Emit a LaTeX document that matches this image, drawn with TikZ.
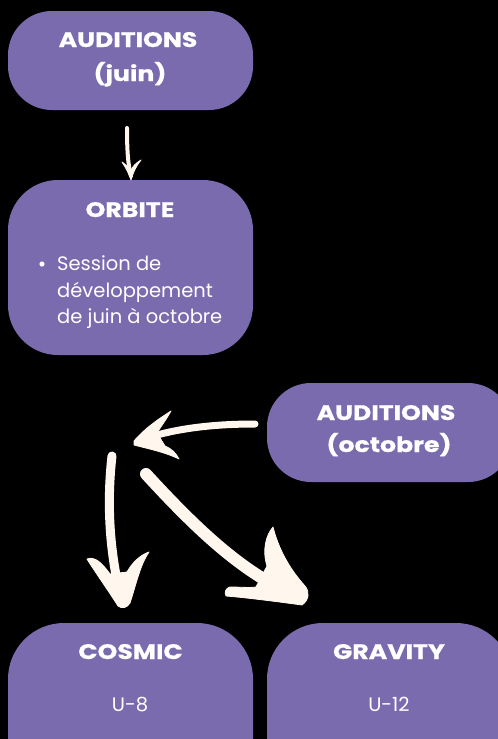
\documentclass[tikz,border=0pt]{standalone}
\usepackage{fontspec}
\setmainfont{Poppins}
\newfontfamily\headfont{Poppins}[BoldFont={Poppins Bold}, BoldFeatures={FakeStretch=1.2, FakeBold=0.6}]
\definecolor{boxpurple}{HTML}{7A6AAE}
\definecolor{cream}{HTML}{FFF7EE}
\tikzset{
  box/.style={fill=boxpurple, draw=none, inner sep=0pt},
  headtxt/.style={text=white, font=\headfont\bfseries\fontsize{21}{24}\selectfont, inner sep=0pt, anchor=base},
  bodytxt/.style={text=white, font=\fontsize{19.5}{26.5}\selectfont, inner sep=0pt, anchor=base},
  shaft/.style={draw=cream, line cap=round},
  arrowhead/.style={fill=cream, draw=cream, line width=0.8pt, line join=round},
}
\begin{document}
\begin{tikzpicture}[x=1pt, y=-1pt]
\useasboundingbox (0,0) rectangle (498,739);
\fill[black] (0,0) rectangle (498,739);
\clip (0,0) rectangle (498,739);
% boxes
\node[box, minimum width=245pt, minimum height=99pt, rounded corners=44pt] (b1) at (130.5,60.5) {};
\node[box, minimum width=245pt, minimum height=175pt, rounded corners=50pt] (b2) at (130.5,267.5) {};
\node[box, minimum width=245pt, minimum height=99pt, rounded corners=44pt] (b3) at (389.5,432.5) {};
\node[box, minimum width=245pt, minimum height=175pt, rounded corners=56pt] (b4) at (130.5,710.5) {};
\node[box, minimum width=245pt, minimum height=175pt, rounded corners=56pt] (b5) at (389.5,710.5) {};
% texts
\node[headtxt] (t1a) at (128,47) {AUDITIONS};
\node[headtxt] (t1b) at (130,81) {(juin)};
\node[headtxt] (t2a) at (130,217) {ORBITE};
\fill[white] (42,264) circle (2.6);
\node[bodytxt] (t2b) at (57,270) [anchor=base west] {Session de};
\node[bodytxt] (t2c) at (57,297) [anchor=base west] {développement};
\node[bodytxt] (t2d) at (57,323) [anchor=base west] {de juin à octobre};
\node[headtxt] (t3a) at (386,420) {AUDITIONS};
\node[headtxt] (t3b) at (389,452) {(octobre)};
\node[headtxt] (t4a) at (130.5,659) {COSMIC};
\node[bodytxt] (t4b) at (130,711) {U-8};
\node[headtxt] (t5a) at (389,659) {GRAVITY};
\node[bodytxt] (t5b) at (389,711) {U-12};
% arrow 1 : b1 -> b2
\coordinate (a1s) at (127,128);
\coordinate (a1e) at (131,176);
\draw[shaft, line width=4pt] (a1s) .. controls (127,150) and (128,165) .. (a1e);
\filldraw[arrowhead] (122,162) .. controls (126,168) and (129,174) .. (131,180) .. controls (133,173) and (136,166) .. (141,160) .. controls (136,163) and (133,166) .. (131,170) .. controls (128,167) and (125,164) .. (122,162) -- cycle;
% arrow 2 : b3 -> centre
\coordinate (a2s) at (255,424);
\coordinate (a2e) at (150,437);
\draw[shaft, line width=7pt] (a2s) .. controls (215,424) and (180,428) .. (a2e);
\filldraw[arrowhead] (134,441) .. controls (145,428) and (160,418) .. (171,411) .. controls (166,420) and (160,428) .. (157,433) -- (165,446) .. controls (172,449) and (176,453) .. (179,459) .. controls (165,452) and (145,448) .. (134,445) -- cycle;
% arrow 3 : centre -> b4
\coordinate (a3s) at (112,456);
\coordinate (a3e) at (119,590);
\draw[shaft, line width=9pt] (a3s) .. controls (107,500) and (109,545) .. (a3e);
\filldraw[arrowhead] (87,559) .. controls (95,556) and (102,563) .. (110,574) -- (127,572) .. controls (132,563) and (140,555) .. (149,552) .. controls (140,565) and (136,585) .. (130,603) .. controls (127,608) and (122,609) .. (118,606) .. controls (108,590) and (95,572) .. (87,559) -- cycle;
% arrow 4 : centre -> b5
\coordinate (a4s) at (146,474);
\coordinate (a4e) at (262,578);
\draw[shaft, line width=12pt] (a4s) .. controls (190,522) and (225,555) .. (a4e);
\filldraw[arrowhead] (267,566) .. controls (262,550) and (266,535) .. (273,527) .. controls (280,555) and (295,575) .. (305,586) .. controls (310,592) and (309,600) .. (302,605) .. controls (280,602) and (250,598) .. (226,596) .. controls (224,592) and (226,588) .. (230,587) .. controls (240,587) and (250,588) .. (256,587) -- cycle;
\end{tikzpicture}
\end{document}
